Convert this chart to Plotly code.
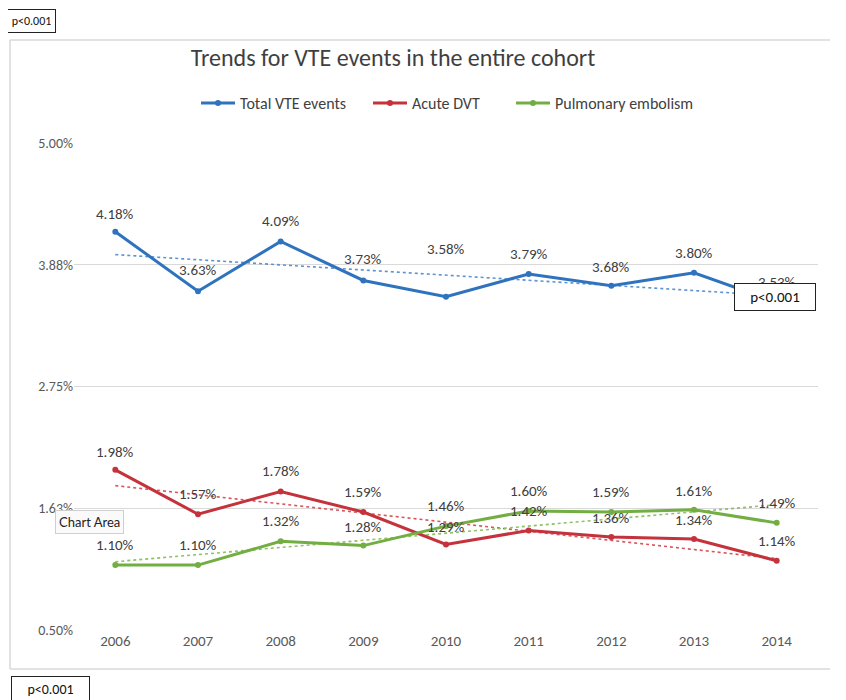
import numpy as np
import plotly.graph_objects as go

years = [2006, 2007, 2008, 2009, 2010, 2011, 2012, 2013, 2014]
total_vte = [4.18, 3.63, 4.09, 3.73, 3.58, 3.79, 3.68, 3.80, 3.53]
acute_dvt = [1.98, 1.57, 1.78, 1.59, 1.29, 1.42, 1.36, 1.34, 1.14]
pulm_emb = [1.10, 1.10, 1.32, 1.28, 1.46, 1.60, 1.59, 1.61, 1.49]
series_names = ["Total VTE events", "Acute DVT", "Pulmonary embolism"]
tick_vals = [0.5, 1.625, 2.75, 3.875, 5.0]
tick_text = ["0.50%", "1.63%", "2.75%", "3.88%", "5.00%"]
title_text = "Trends for VTE events in the entire cohort"
pval_text = "p<0.001"

colors = ["#2F73BE", "#C4323C", "#72AE42"]
trend_colors = ["#5B93D3", "#D9545C", "#8FC163"]
# per-label vertical offsets (px) for the data labels
label_shift = [
    [18, 21, 20, 21, 48, 20, 19, 20, 20],
    [18, 20, 20, 20, 18, 19, 19, 19, 20],
    [20, 20, 20, 19, 20, 20, 20, 19, 20],
]
legend_left = [196, 368, 511]  # pixel x of each legend entry

FONT = "Carlito, Lato, sans-serif"
OFF = 8  # page body margin
W, H = 846 - OFF, 700 - OFF
L, T = 74 - OFF, 143 - OFF
R = W - (818 - OFF)
B = H - (630 - OFF)
pw, ph = W - L - R, H - T - B


def px(x):
    return (x - OFF - L) / pw


def py(y):
    return (H - B - (y - OFF)) / ph


legend_ids = ["legend", "legend2", "legend3"]

fig = go.Figure()
all_series = [total_vte, acute_dvt, pulm_emb]
xa = np.array(years, dtype=float)
for i, s in enumerate(all_series):
    k, c = np.polyfit(xa, np.array(s), 1)
    fig.add_trace(go.Scatter(x=years, y=list(k * xa + c), mode="lines",
                             line=dict(color=trend_colors[i], width=1.6, dash="dot"),
                             showlegend=False, hoverinfo="skip"))
for i, s in enumerate(all_series):
    fig.add_trace(go.Scatter(x=years, y=s, mode="lines+markers", name=series_names[i],
                             legend=legend_ids[i],
                             line=dict(color=colors[i], width=3),
                             marker=dict(color=colors[i], size=6)))

ann = []
for i, s in enumerate(all_series):
    for j, (yr, v) in enumerate(zip(years, s)):
        ann.append(dict(x=yr, y=v, text=f"{v:.2f}%", showarrow=False, xref="x", yref="y",
                        xanchor="center", yanchor="middle",
                        yshift=label_shift[i][j], font=dict(family=FONT, size=15, color="#404040")))


def box(cx, cy, size, w, text=pval_text, **kw):
    d = dict(x=px(cx), y=py(cy), xref="paper", yref="paper", text=text, showarrow=False,
             xanchor="center", yanchor="middle",
             font=dict(family=FONT, size=size, color="#111"), bgcolor="white", bordercolor="#222",
             borderwidth=1, borderpad=4, width=w)
    d.update(kw)
    return d


ann.append(box(775, 296.5, 15, 72))
ann.append(box(31.5, 20.5, 12, 39))
ann.append(box(50.5, 689, 14, 69))
ann.append(dict(x=px(89.5), y=py(522), xref="paper", yref="paper", text="Chart Area", showarrow=False,
                xanchor="center", yanchor="middle",
                font=dict(family="Lato, sans-serif", size=13, color="#222"), bgcolor="#FAFAFA",
                bordercolor="#CFCFCF", borderwidth=1, borderpad=3))

border = dict(color="#D9D9D9", width=1.5)
shapes = [
    dict(type="line", xref="paper", yref="paper", x0=px(10), x1=px(830), y0=py(40), y1=py(40), line=border, layer="below"),
    dict(type="line", xref="paper", yref="paper", x0=px(10), x1=px(10), y0=py(40), y1=py(669), line=border, layer="below"),
    dict(type="line", xref="paper", yref="paper", x0=px(10), x1=px(830), y0=py(669), y1=py(669), line=border, layer="below"),
]

legend_common = dict(orientation="h", xanchor="left", y=py(103), yanchor="middle",
                     font=dict(family=FONT, size=16, color="#404040"), itemwidth=34,
                     bgcolor="rgba(0,0,0,0)")

fig.update_layout(
    width=W, height=H,
    margin=dict(l=L, r=R, t=T, b=B),
    paper_bgcolor="white", plot_bgcolor="white",
    title=dict(text=title_text, x=(393 - OFF) / W, xanchor="center", y=1 - (58 - OFF) / H,
               yanchor="middle", font=dict(family=FONT, size=24, color="#3F3F3F")),
    legend=dict(x=px(legend_left[0]), **legend_common),
    legend2=dict(x=px(legend_left[1]), **legend_common),
    legend3=dict(x=px(legend_left[2]), **legend_common),
    xaxis=dict(range=[2005.5, 2014.5], tickmode="array", tickvals=years,
               ticktext=[str(y) for y in years], showgrid=False, zeroline=False, showline=False,
               ticks="", tickfont=dict(family=FONT, size=15, color="#595959")),
    yaxis=dict(range=[0.5, 5.0], tickmode="array", tickvals=tick_vals, ticktext=tick_text,
               showgrid=True, gridcolor="#D9D9D9", gridwidth=1.2, zeroline=False, showline=False,
               ticks="", tickfont=dict(family=FONT, size=14, color="#595959")),
    annotations=ann, shapes=shapes,
)
fig.write_html("out.html", config={"displayModeBar": False},
               post_script="document.documentElement.style.overflow='hidden';")
